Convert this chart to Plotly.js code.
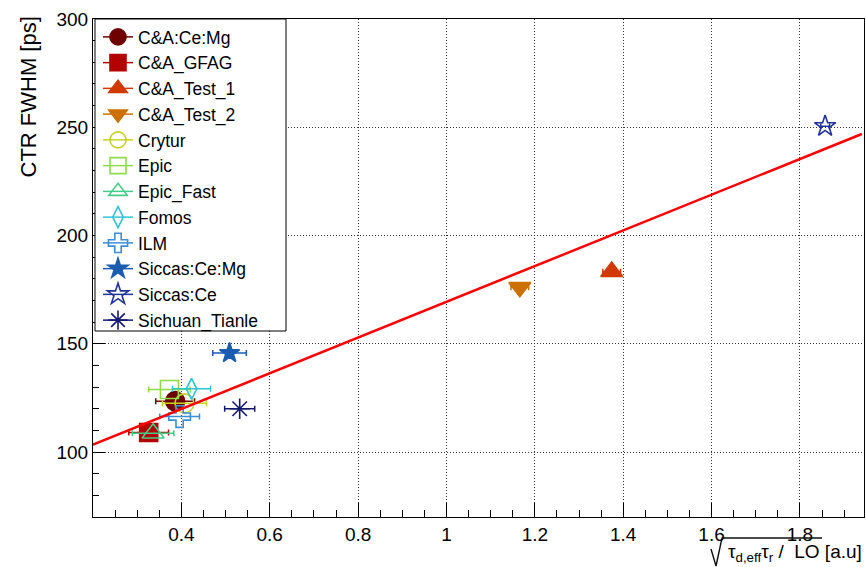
<!DOCTYPE html>
<html>
<head>
<meta charset="utf-8">
<script src="https://cdn.plot.ly/plotly-3.0.1.min.js"></script>
<style>html,body{margin:0;padding:0;background:#fff;}#plot{width:866px;height:567px;}</style>
</head>
<body>
<div id="plot"></div>
<script>
// ---- data ----
const names   = ["C&A:Ce:Mg","C&A_GFAG","C&A_Test_1","C&A_Test_2","Crytur","Epic","Epic_Fast","Fomos","ILM","Siccas:Ce:Mg","Siccas:Ce","Sichuan_Tianle"];
const xVals   = [0.386, 0.326, 1.374, 1.166, 0.407, 0.373, 0.336, 0.423, 0.396, 0.509, 1.857, 0.532];
const xErrs   = [0.044, 0.045, 0.020, 0.020, 0.050, 0.047, 0.047, 0.043, 0.045, 0.038, 0.010, 0.034];
const yVals   = [123.5, 109.0, 183.3, 176.1, 122.5, 128.9, 108.7, 129.2, 116.4, 145.7, 250.5, 120.0];
const fitX    = [0.2, 1.94];
const fitY    = [103.4, 246.9];
const xTicks  = [0.4, 0.6, 0.8, 1.0, 1.2, 1.4, 1.6, 1.8];
const yTicks  = [100, 150, 200, 250, 300];

// ---- styles ----
const colors  = ["#6e0000","#b30000","#d03a00","#cc7000","#c5d31f","#8fdb4a","#44cc88","#33c4d4","#3a8fd8","#1a5cb0","#223399","#14186e"];
const symbols = ["circle","square","triangle-up","triangle-down","circle-open","square-open","triangle-up-open","diamond-tall-open","cross-open","star","star-open","asterisk-open"];
const sizes   = [19, 18, 19, 19, 19, 18, 19, 15, 18, 15, 16, 17];

const FONT = "Liberation Sans, Arial, Helvetica, sans-serif";
const traces = names.map((n, i) => ({
  type: "scatter", mode: "lines+markers", name: n,
  x: [xVals[i]], y: [yVals[i]],
  error_x: {type: "data", array: [xErrs[i]], visible: true, color: colors[i], thickness: 1.5, width: 3},
  marker: {symbol: symbols[i], size: sizes[i], color: colors[i], line: {color: colors[i], width: 1.6}},
  line: {color: colors[i], width: 1.5}
}));
traces.push({
  type: "scatter", mode: "lines", x: fitX, y: fitY, showlegend: false,
  line: {color: "#ff0000", width: 2.5}, hoverinfo: "skip"
});

// paper-coordinate helpers (plot area 93..864 x 19..517)
const px = v => (v - 93) / 771;
const py = v => (517 - v) / 498;

const GRID = {showgrid: true, gridcolor: "#333", griddash: "1px,2px", gridwidth: 1, zeroline: false};
const layout = {
  width: 866, height: 567,
  margin: {l: 93, r: 2, t: 19, b: 50, pad: 0},
  paper_bgcolor: "#fff", plot_bgcolor: "#fff",
  font: {family: FONT, size: 19, color: "#000"},
  showlegend: true,
  legend: {x: px(98), y: 1, xanchor: "left", yanchor: "top", bgcolor: "rgba(0,0,0,0)",
           borderwidth: 0, font: {family: FONT, size: 17.5, color: "#000"},
           itemsizing: "trace", tracegroupgap: 0},
  xaxis: Object.assign({range: [0.2, 1.945], tickmode: "array", tickvals: xTicks, ticks: "inside", ticklen: 14,
          tickcolor: "#000", tickwidth: 1, showline: true, mirror: true, linecolor: "#000", linewidth: 1,
          tickfont: {family: FONT, size: 19},
          minor: {tickmode: "linear", tick0: 0, dtick: 0.05, ticks: "inside", ticklen: 7, tickcolor: "#000", showgrid: false}}, GRID),
  yaxis: Object.assign({range: [70, 300], tickmode: "array", tickvals: yTicks, ticks: "inside", ticklen: 12,
          tickcolor: "#000", tickwidth: 1, showline: true, mirror: true, linecolor: "#000", linewidth: 1,
          tickfont: {family: FONT, size: 19},
          minor: {tickmode: "linear", tick0: 0, dtick: 10, ticks: "inside", ticklen: 6, tickcolor: "#000", showgrid: false}}, GRID),
  shapes: [
    {type: "rect", xref: "paper", yref: "paper", x0: px(95), x1: px(286), y0: py(331), y1: py(19),
     fillcolor: "#fff", line: {color: "#000", width: 1}, layer: "above"},
    {type: "path", xref: "paper", yref: "paper",
     path: "M " + px(711) + "," + py(549) + " L " + px(716) + "," + py(566) + " L " + px(722) + "," + py(538) + " L " + px(822) + "," + py(538),
     line: {color: "#111", width: 1.4}}],
  annotations: [
    {xref: "paper", yref: "paper", x: 1.0, y: py(567), xanchor: "right", yanchor: "bottom", showarrow: false,
     text: "τ<sub>d,eff</sub>τ<sub>r</sub> /  LO [a.u]", font: {family: FONT, size: 19, color: "#000"}},
    {xref: "paper", yref: "paper", x: px(28), y: py(15), xanchor: "center", yanchor: "top", showarrow: false,
     textangle: -90, text: "CTR FWHM [ps]", font: {family: FONT, size: 22, color: "#000"}}
  ]
};

Plotly.newPlot("plot", traces, layout, {displayModeBar: false, staticPlot: true});
</script>
</body>
</html>
